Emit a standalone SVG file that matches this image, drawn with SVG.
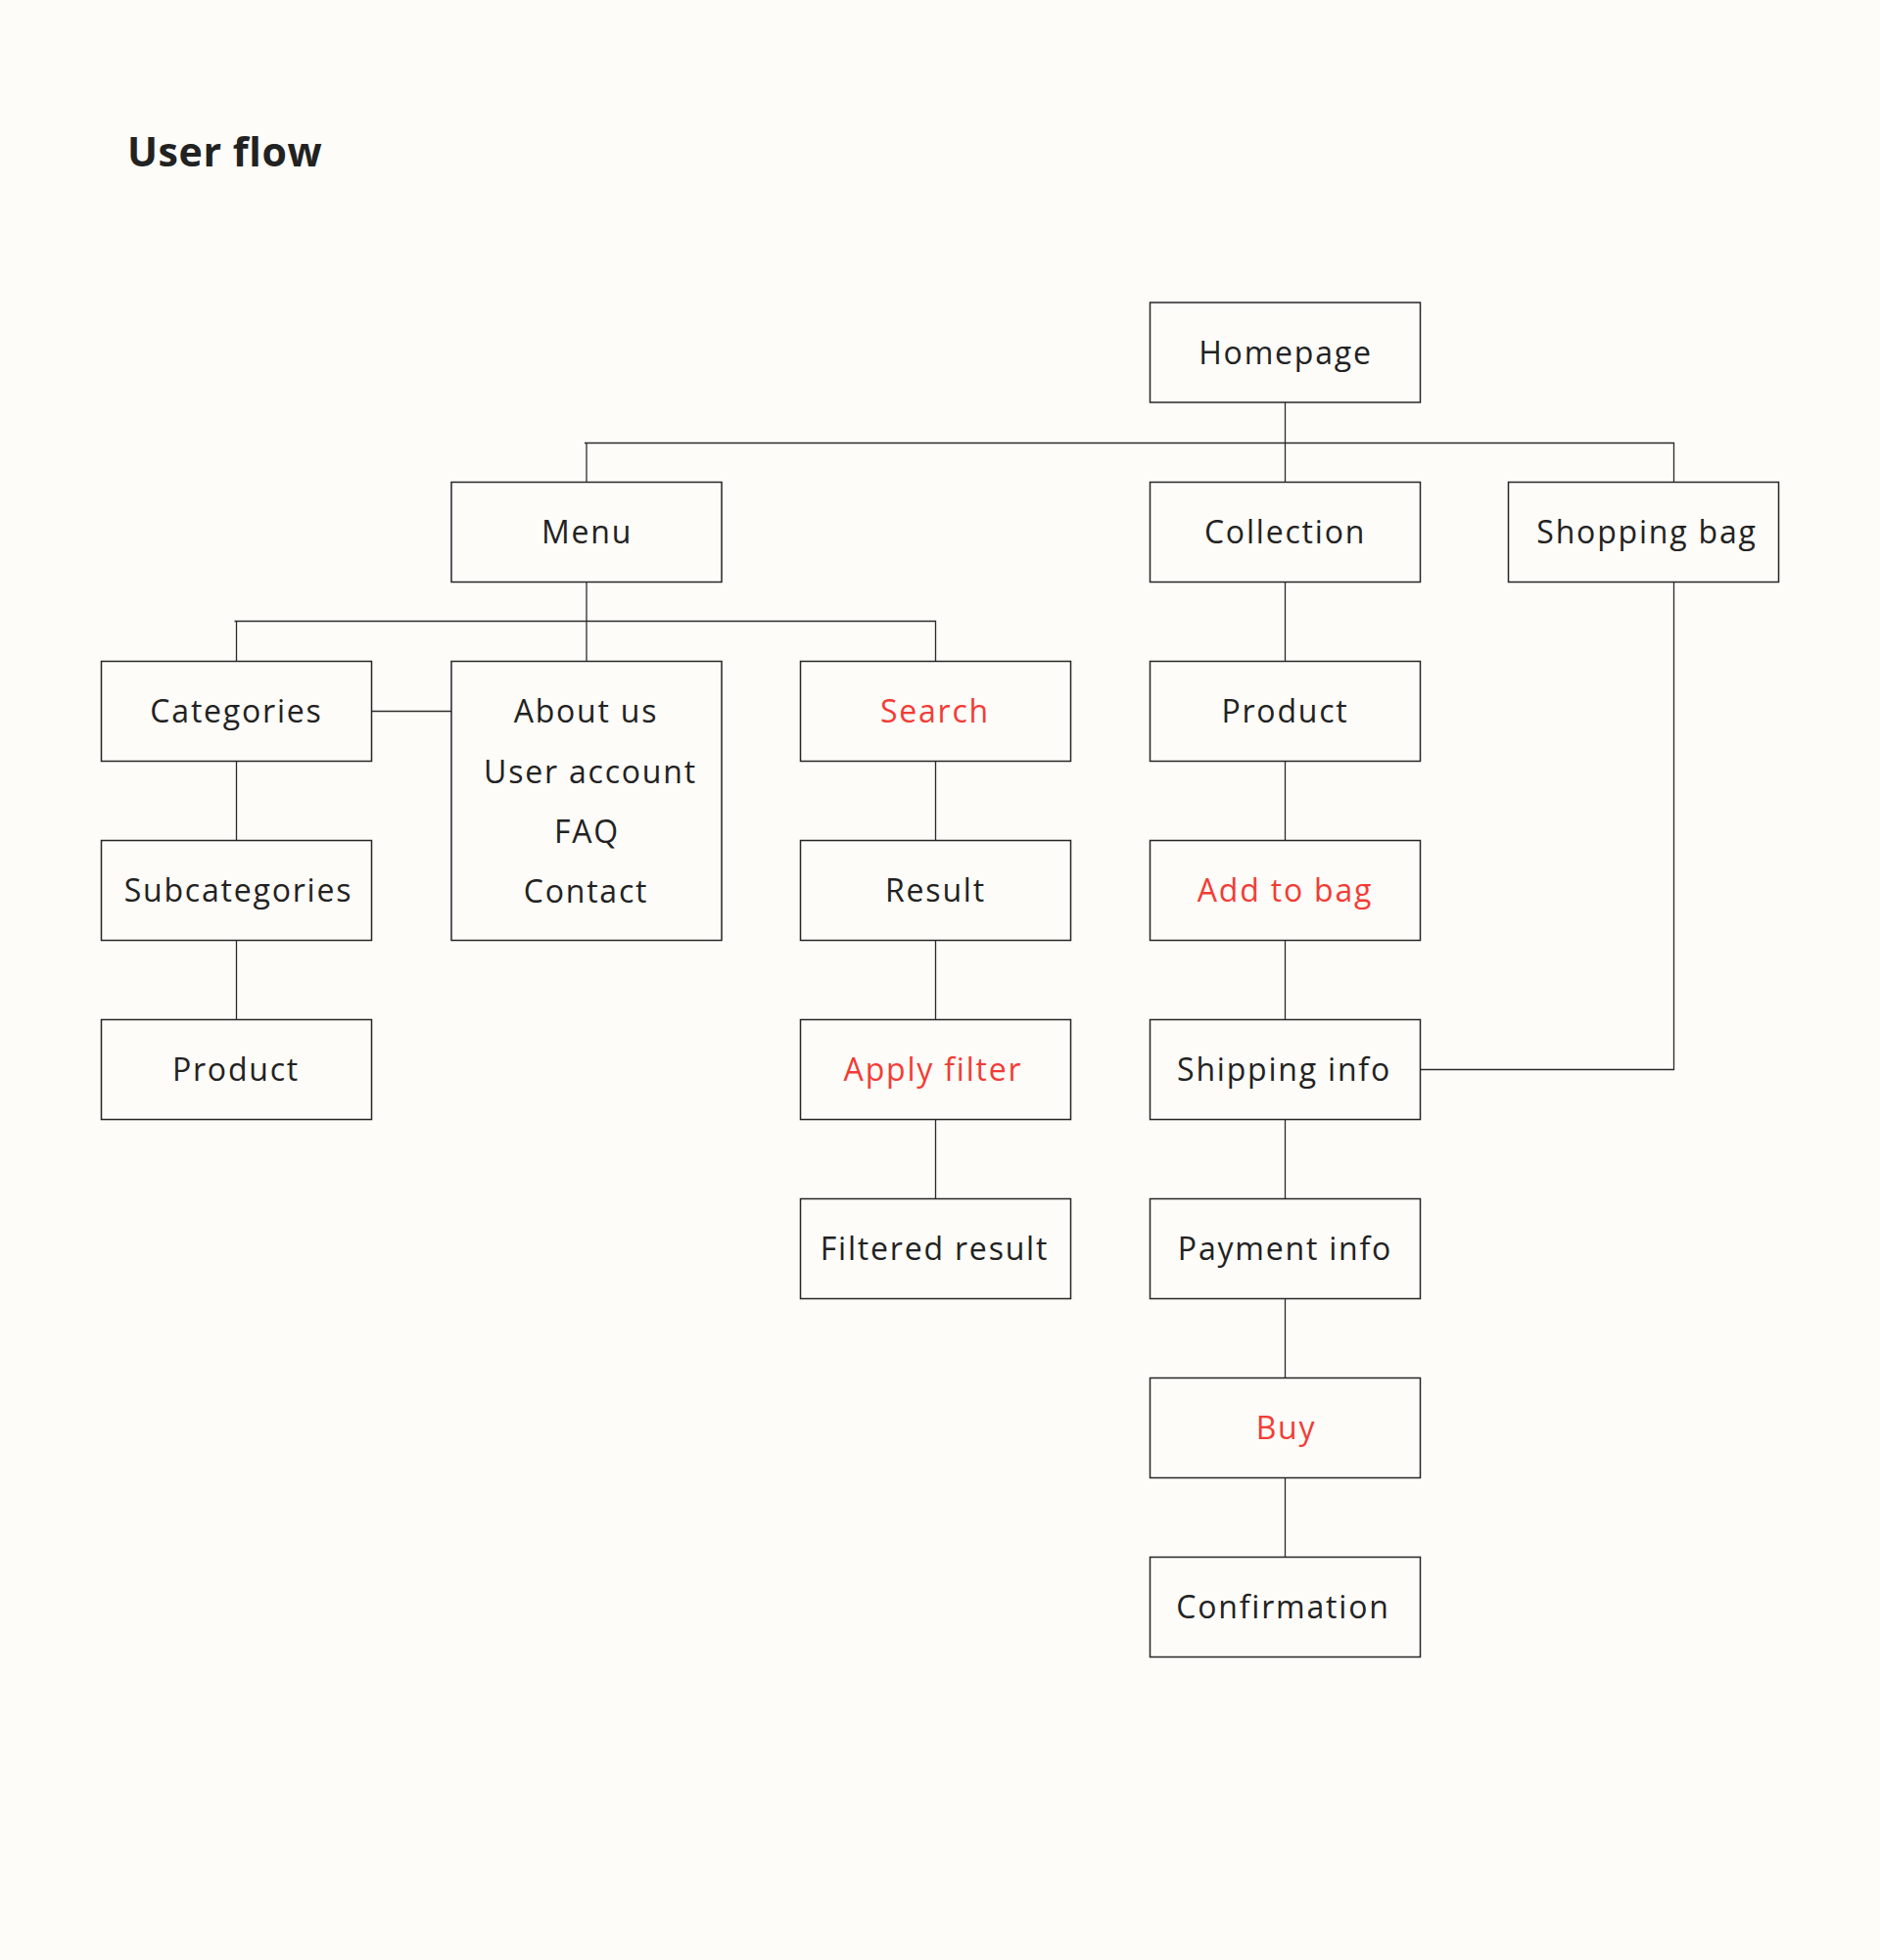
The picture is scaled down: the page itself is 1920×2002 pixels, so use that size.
<svg xmlns="http://www.w3.org/2000/svg" width="1920" height="2002" viewBox="0 0 1920 2002">
<style>
.bg{fill:#fdfcf8}
.box{fill:#fdfcf8;stroke:#262626;stroke-width:1.5}
.lbl{font-family:"Open Sans","DejaVu Sans",sans-serif;font-size:32px;fill:#222;text-anchor:middle;letter-spacing:1.8px}
.red{fill:#f23c36}
.ttl{font-family:"Open Sans","DejaVu Sans",sans-serif;font-size:41px;font-weight:700;fill:#222;letter-spacing:0.6px}
.con{fill:none;stroke:#2b2b2b;stroke-width:1.3}
</style>
<rect class="bg" x="0" y="0" width="1920" height="2002"/>
<text class="ttl" x="130" y="170">User flow</text>
<g id="connectors">
<path class="con" d="M1312.5 411 V492.5"/>
<path class="con" d="M597 452.5 H1709.5 V492.5"/>
<path class="con" d="M599 452.5 V492.5"/>
<path class="con" d="M599 594.5 V675.5"/>
<path class="con" d="M239.5 634.5 H955.5 V675.5"/>
<path class="con" d="M241.5 634.5 V675.5"/>
<path class="con" d="M379.5 726.5 H461"/>
<path class="con" d="M241.5 777.5 V858.5 M241.5 960.5 V1041.5"/>
<path class="con" d="M955.5 777.5 V858.5 M955.5 960.5 V1041.5 M955.5 1143.5 V1224.5"/>
<path class="con" d="M1312.5 594.5 V675.5 M1312.5 777.5 V858.5 M1312.5 960.5 V1041.5 M1312.5 1143.5 V1224.5 M1312.5 1326.5 V1407.5 M1312.5 1509.5 V1590.5"/>
<path class="con" d="M1709.5 594.5 V1092.5 H1450.5"/>
</g>
<g id="homepage"><rect class="box" x="1174.5" y="309" width="276" height="102"/><text class="lbl" x="1313" y="371.5">Homepage</text></g>
<g id="menu"><rect class="box" x="461" y="492.5" width="276" height="102"/><text class="lbl" x="599.5" y="555">Menu</text></g>
<g id="collection"><rect class="box" x="1174.5" y="492.5" width="276" height="102"/><text class="lbl" x="1312.5" y="555">Collection</text></g>
<g id="shopping-bag"><rect class="box" x="1540.5" y="492.5" width="276" height="102"/><text class="lbl" x="1682" y="555">Shopping bag</text></g>
<g id="categories"><rect class="box" x="103.5" y="675.5" width="276" height="102"/><text class="lbl" x="241.5" y="738">Categories</text></g>
<g id="info-pages"><rect class="box" x="461" y="675.5" width="276" height="285"/>
<text class="lbl" x="598.5" y="738">About us</text>
<text class="lbl" x="603" y="799.5">User account</text>
<text class="lbl" x="599.5" y="860.5">FAQ</text>
<text class="lbl" x="598.5" y="921.5">Contact</text></g>
<g id="search"><rect class="box" x="817.5" y="675.5" width="276" height="102"/><text class="lbl red" x="955" y="738">Search</text></g>
<g id="product-collection"><rect class="box" x="1174.5" y="675.5" width="276" height="102"/><text class="lbl" x="1312.5" y="738">Product</text></g>
<g id="subcategories"><rect class="box" x="103.5" y="858.5" width="276" height="102"/><text class="lbl" x="243.5" y="921">Subcategories</text></g>
<g id="result"><rect class="box" x="817.5" y="858.5" width="276" height="102"/><text class="lbl" x="955.5" y="921">Result</text></g>
<g id="add-to-bag"><rect class="box" x="1174.5" y="858.5" width="276" height="102"/><text class="lbl red" x="1312.5" y="921">Add to bag</text></g>
<g id="product-categories"><rect class="box" x="103.5" y="1041.5" width="276" height="102"/><text class="lbl" x="241" y="1104">Product</text></g>
<g id="apply-filter"><rect class="box" x="817.5" y="1041.5" width="276" height="102"/><text class="lbl red" x="953" y="1104">Apply filter</text></g>
<g id="shipping-info"><rect class="box" x="1174.5" y="1041.5" width="276" height="102"/><text class="lbl" x="1311.5" y="1104">Shipping info</text></g>
<g id="filtered-result"><rect class="box" x="817.5" y="1224.5" width="276" height="102"/><text class="lbl" x="954.5" y="1287">Filtered result</text></g>
<g id="payment-info"><rect class="box" x="1174.5" y="1224.5" width="276" height="102"/><text class="lbl" x="1312.5" y="1287">Payment info</text></g>
<g id="buy"><rect class="box" x="1174.5" y="1407.5" width="276" height="102"/><text class="lbl red" x="1313.5" y="1470">Buy</text></g>
<g id="confirmation"><rect class="box" x="1174.5" y="1590.5" width="276" height="102"/><text class="lbl" x="1310.5" y="1653">Confirmation</text></g>
</svg>
